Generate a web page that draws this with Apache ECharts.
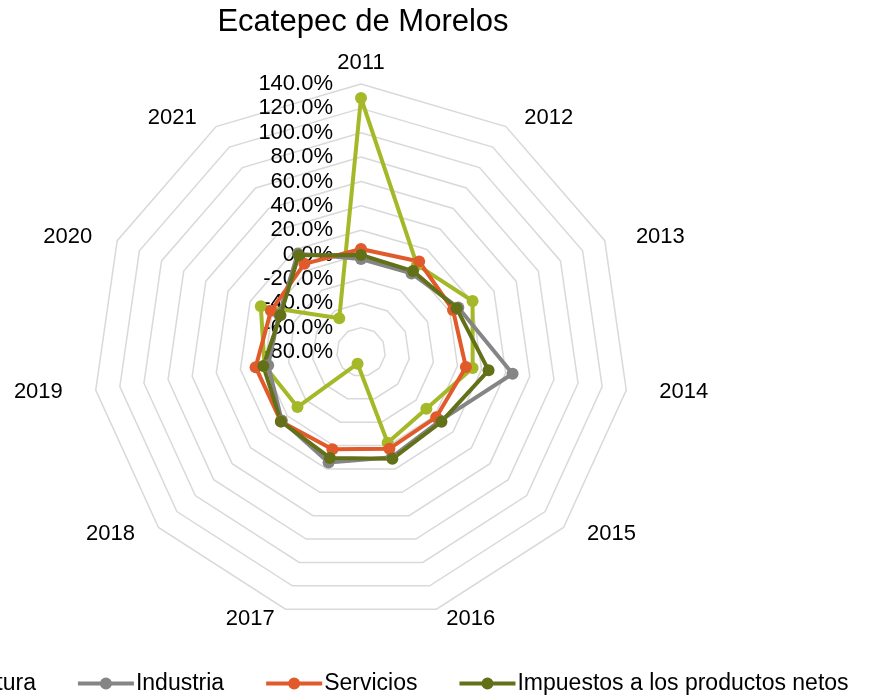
<!DOCTYPE html>
<html>
<head>
<meta charset="utf-8">
<script src="https://cdn.jsdelivr.net/npm/echarts@6/dist/echarts.min.js"></script>
<style>
  html, body { margin: 0; padding: 0; background: #fff; }
  #chart { width: 872px; height: 700px; }
</style>
</head>
<body>
<div id="chart"></div>
<script>
const years = ['2011', '2012', '2013', '2014', '2015', '2016', '2017', '2018', '2019', '2020', '2021']
const seriesNames = ['Agricultura', 'Industria', 'Servicios', 'Impuestos a los productos netos']
const colorList = ['#A5B928', '#858585', '#E05A2B', '#627018']

// variación anual (%)
const agricultura = [128.5, 5, 20.7, 12.6, -9, -2.3, -70, -11, 0, 10.4, -47]
const industria = [-3.7, -3.3, 7.8, 45.7, 6, 10, 14.5, 6, -3, -6, 16]
const servicios = [4.6, 8.3, 3, 7, 1.7, 2.7, 3.3, 7, 7.4, 1.3, 6]
const impuestos = [-0.4, -1, 6.3, 25.8, 7.4, 11.4, 10.6, 7, 1, -7.3, 14.5]

const myChart = echarts.init(document.getElementById('chart'))

const fontFamily = 'Liberation Sans, Arial, sans-serif'

// el radar de echarts avanza en sentido antihorario, asi que se invierte el orden
// (2011 arriba y luego 2012, 2013... hacia la derecha)
const order = years.map((y, i) => (i === 0 ? 0 : years.length - i))
const reorder = (arr) => order.map((i) => arr[i])

const indicator = order.map((idx, i) => {
  const item = { name: years[idx], min: -80, max: 140 }
  if (i === 0) {
    // solo el primer eje lleva las etiquetas
    item.axisLabel = {
      show: true,
      color: '#000',
      fontSize: 22,
      fontFamily,
      margin: 28,
      formatter: (v) => v.toFixed(1) + '%',
    }
  }
  return item
})

// separacion extra de cada año respecto al poligono (lado derecho / izquierdo)
const namePad = {
  2011: [0, 0, 0, 0],
  2012: [0, 0, 0, 13],
  2013: [0, 0, 0, 22],
  2014: [0, 0, 0, 23],
  2015: [0, 0, 0, 16],
  2016: [0, 0, 0, 7],
  2017: [0, 8, 0, 0],
  2018: [0, 16, 0, 0],
  2019: [0, 23, 0, 0],
  2020: [0, 16, 0, 0],
  2021: [0, 14, 0, 0],
}
const nameRich = {}
years.forEach((y) => {
  nameRich['y' + y] = { color: '#000', fontSize: 22, fontFamily, padding: namePad[y] }
})

// icono de leyenda: linea con marcador circular
const legendIcon = 'path://M0,4h56v4h-56z M22,6a6,6 0 1,1 12,0a6,6 0 1,1 -12,0z'

const option = {
  backgroundColor: '#fff',
  color: colorList,
  title: {
    text: 'Ecatepec de Morelos',
    left: 358,
    textAlign: 'center',
    top: 2,
    textStyle: {
      fontSize: 31,
      fontWeight: 'normal',
      color: '#000',
      fontFamily,
    },
  },
  legend: {
    left: -137,
    bottom: 0,
    icon: legendIcon,
    itemWidth: 56,
    itemHeight: 12,
    itemGap: 42,
    textStyle: {
      fontSize: 23,
      color: '#000',
      fontFamily,
      padding: [0, 0, 0, -3],
    },
    data: seriesNames,
  },
  radar: {
    center: [361, 352],
    radius: 268,
    startAngle: 90,
    splitNumber: 11,
    shape: 'polygon',
    indicator,
    nameGap: 10,
    axisName: {
      color: '#000',
      fontSize: 22,
      fontFamily,
      formatter: (name) => '{y' + name + '|' + name + '}',
      rich: nameRich,
    },
    axisLine: { show: false },
    axisTick: { show: false },
    axisLabel: { show: false },
    splitArea: { show: false },
    splitLine: {
      lineStyle: { color: '#D9D9D9', width: 1.5 },
    },
  },
  series: [
    {
      type: 'radar',
      symbol: 'circle',
      symbolSize: 12,
      lineStyle: { width: 4 },
      data: [
        { name: seriesNames[0], value: reorder(agricultura), itemStyle: { color: colorList[0] }, lineStyle: { color: colorList[0] } },
        { name: seriesNames[1], value: reorder(industria), itemStyle: { color: colorList[1] }, lineStyle: { color: colorList[1] } },
        { name: seriesNames[2], value: reorder(servicios), itemStyle: { color: colorList[2] }, lineStyle: { color: colorList[2] } },
        { name: seriesNames[3], value: reorder(impuestos), itemStyle: { color: colorList[3] }, lineStyle: { color: colorList[3] } },
      ],
    },
  ],
}
myChart.setOption(option, true)
</script>
</body>
</html>
